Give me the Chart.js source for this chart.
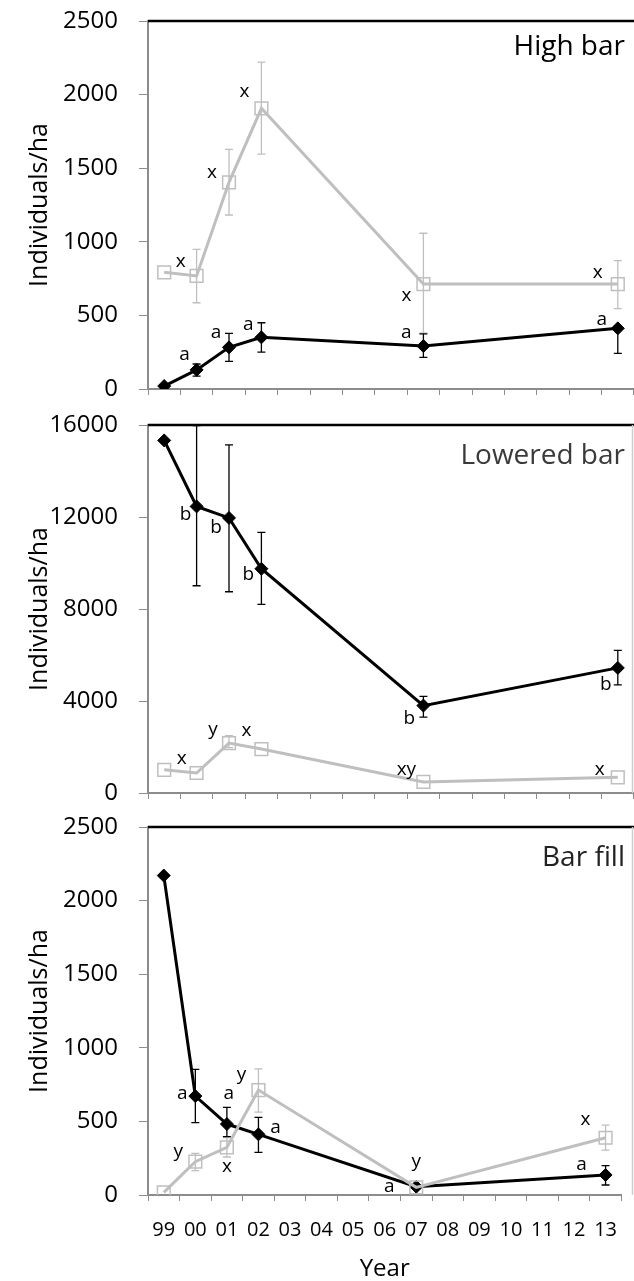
<!DOCTYPE html>
<html>
<head>
<meta charset="utf-8">
<script src="https://cdn.jsdelivr.net/npm/chart.js@4.4.1/dist/chart.umd.min.js"></script>
<style>
  html, body { margin: 0; padding: 0; background: #fff; }
  #wrap { position: relative; width: 634px; height: 1281px; overflow: hidden; }
  canvas { position: absolute; left: 0; }
</style>
</head>
<body>
<div id="wrap">
  <canvas id="c1" width="634" height="410" style="top:0px"></canvas>
  <canvas id="c2" width="634" height="410" style="top:404px"></canvas>
  <canvas id="c3" width="634" height="475" style="top:806px"></canvas>
</div>
<script>
const years = ['99', '00', '01', '02', '03', '04', '05', '06', '07', '08', '09', '10', '11', '12', '13'];

// High bar
const highGray     = [793, 768, 1404, 1907, null, null, null, null, 713, null, null, null, null, null, 713];
const highGrayUp   = [null, 949, 1628, 2221, null, null, null, null, 1058, null, null, null, null, null, 872];
const highGrayDown = [null, 586, 1182, 1596, null, null, null, null, 380, null, null, null, null, null, 546];
const highGrayTags = ['', 'x', 'x', 'x', '', '', '', '', 'x', '', '', '', '', '', 'x'];
const highBlack     = [20, 130, 283, 351, null, null, null, null, 292, null, null, null, null, null, 412];
const highBlackUp   = [null, 170, 378, 450, null, null, null, null, 374, null, null, null, null, null, 425];
const highBlackDown = [null, 88, 188, 251, null, null, null, null, 215, null, null, null, null, null, 242];
const highBlackTags = ['', 'a', 'a', 'a', '', '', '', '', 'a', '', '', '', '', '', 'a'];

// Lowered bar
const lowGray     = [1010, 870, 2170, 1910, null, null, null, null, 480, null, null, null, null, null, 680];
const lowGrayUp   = [null, null, 2490, null, null, null, null, null, null, null, null, null, null, null, null];
const lowGrayDown = [null, null, 1970, null, null, null, null, null, null, null, null, null, null, null, null];
const lowGrayTags = ['', 'x', 'y', 'x', '', '', '', '', 'xy', '', '', '', '', '', 'x'];
const lowBlack     = [15330, 12460, 11960, 9750, null, null, null, null, 3800, null, null, null, null, null, 5440];
const lowBlackUp   = [null, 15970, 15140, 11330, null, null, null, null, 4200, null, null, null, null, null, 6200];
const lowBlackDown = [null, 9010, 8750, 8200, null, null, null, null, 3300, null, null, null, null, null, 4700];
const lowBlackTags = ['', 'b', 'b', 'b', '', '', '', '', 'b', '', '', '', '', '', 'b'];

// Bar fill
const fillGray     = [18, 226, 324, 713, null, null, null, null, 52, null, null, null, null, null, 389];
const fillGrayUp   = [null, 283, 390, 857, null, null, null, null, null, null, null, null, null, null, 475];
const fillGrayDown = [null, 165, 258, 563, null, null, null, null, null, null, null, null, null, null, 305];
const fillGrayTags = ['', 'y', 'x', 'y', '', '', '', '', 'y', '', '', '', '', '', 'x'];
const fillBlack     = [2170, 672, 482, 412, null, null, null, null, 56, null, null, null, null, null, 136];
const fillBlackUp   = [null, 853, 595, 527, null, null, null, null, null, null, null, null, null, null, 199];
const fillBlackDown = [null, 491, 396, 290, null, null, null, null, null, null, null, null, null, null, 68];
const fillBlackTags = ['', 'a', 'a', 'a', '', '', '', '', 'a', '', '', '', '', '', 'a'];

// where each letter sits relative to its point (px), by year index
const highGrayPos  = { 1: [-16, -14], 2: [-17, -10], 3: [-17, -17], 8: [-17, 12], 14: [-20, -11] };
const highBlackPos = { 1: [-12, -15], 2: [-13, -15], 3: [-13, -13], 8: [-17, -13], 14: [-16, -9] };
const lowGrayPos   = { 1: [-15, -14], 2: [-16, -13], 3: [-15, -18], 8: [-17, -12], 14: [-18, -8] };
const lowBlackPos  = { 1: [-11, 8], 2: [-13, 10], 3: [-13, 6], 8: [-14, 13], 14: [-12, 17] };
const fillGrayPos  = { 1: [-17, -10], 2: [0, 19], 3: [-17, -15], 8: [0, -26], 14: [-20, -18] };
const fillBlackPos = { 1: [-13, -2], 2: [2, -30], 3: [17, -7], 8: [-27, 0], 14: [-24, -10] };

const GRAY = '#bfbfbf';
const AXIS = '#8c8c8c';
Chart.defaults.font.family = "'Open Sans', sans-serif";
Chart.defaults.color = '#000';

const extras = {
  id: 'extras',
  beforeDatasetsDraw(chart, args, o) {
    const ctx = chart.ctx, xs = chart.scales.x, ys = chart.scales.y;
    o.bars.forEach(b => {
      ctx.save();
      ctx.strokeStyle = b.color;
      ctx.lineWidth = 1.3;
      b.up.forEach((u, i) => {
        const d = b.down[i];
        if (u == null && d == null) return;
        const px = xs.getPixelForValue(i);
        const y1 = ys.getPixelForValue(u != null ? u : b.mid[i]);
        const y2 = ys.getPixelForValue(d != null ? d : b.mid[i]);
        ctx.beginPath();
        ctx.moveTo(px, y1); ctx.lineTo(px, y2);
        if (u != null) { ctx.moveTo(px - 4, y1); ctx.lineTo(px + 4, y1); }
        if (d != null) { ctx.moveTo(px - 4, y2); ctx.lineTo(px + 4, y2); }
        ctx.stroke();
      });
      ctx.restore();
    });
  },
  afterDatasetsDraw(chart, args, o) {
    const ctx = chart.ctx, xs = chart.scales.x, ys = chart.scales.y;
    ctx.save();
    ctx.font = "19px 'Open Sans', sans-serif";
    ctx.fillStyle = '#000';
    ctx.textAlign = 'center';
    ctx.textBaseline = 'middle';
    o.tags.forEach(t => {
      t.text.forEach((s, i) => {
        if (!s) return;
        const p = t.pos[i] || [0, 0];
        ctx.fillText(s, xs.getPixelForValue(i) + p[0], ys.getPixelForValue(t.vals[i]) + p[1]);
      });
    });
    ctx.font = "28px 'Open Sans', sans-serif";
    ctx.fillStyle = o.titleColor;
    ctx.textAlign = 'right';
    ctx.textBaseline = 'alphabetic';
    ctx.fillText(o.title, 625, chart.chartArea.top + o.titleDrop);
    ctx.restore();
  },
  afterDraw(chart, args, o) {
    const ctx = chart.ctx, a = chart.chartArea;
    ctx.save();
    ctx.strokeStyle = '#000';
    ctx.lineWidth = 2.5;
    ctx.beginPath();
    ctx.moveTo(a.left, a.top);
    ctx.lineTo(chart.width, a.top);
    ctx.stroke();
    if (o.rightEdge) {
      ctx.strokeStyle = '#cfcfcf';
      ctx.lineWidth = 1.5;
      ctx.beginPath();
      ctx.moveTo(632.5, a.top);
      ctx.lineTo(632.5, a.bottom);
      ctx.stroke();
    }
    ctx.restore();
  }
};

function panel(id, p) {
  return new Chart(document.getElementById(id), {
    type: 'line',
    data: {
      labels: years,
      datasets: [
        {
          data: p.gray,
          borderColor: GRAY,
          borderWidth: 3,
          pointStyle: 'rect',
          pointRadius: 9,
          pointBorderColor: GRAY,
          pointBorderWidth: 1.5,
          pointBackgroundColor: 'rgba(255,255,255,0)',
          spanGaps: true,
          tension: 0
        },
        {
          data: p.black,
          borderColor: '#000',
          borderWidth: 3,
          pointStyle: 'rectRot',
          pointRadius: 6.5,
          pointBorderColor: '#000',
          pointBorderWidth: 1,
          pointBackgroundColor: '#000',
          spanGaps: true,
          tension: 0
        }
      ]
    },
    options: {
      responsive: false,
      animation: false,
      events: [],
      layout: { autoPadding: false, padding: { top: 21, left: 0, right: 0, bottom: 0 } },
      plugins: {
        legend: { display: false },
        tooltip: { enabled: false },
        extras: {
          bars: [
            { up: p.grayUp, down: p.grayDown, mid: p.gray, color: GRAY },
            { up: p.blackUp, down: p.blackDown, mid: p.black, color: '#000' }
          ],
          tags: [
            { text: p.grayTags, pos: p.grayPos, vals: p.gray },
            { text: p.blackTags, pos: p.blackPos, vals: p.black }
          ],
          title: p.title,
          titleColor: p.titleColor,
          titleDrop: p.titleDrop,
          rightEdge: p.rightEdge
        }
      },
      scales: {
        x: {
          offset: true,
          grid: { offset: true, drawOnChartArea: false, drawTicks: true, tickLength: 6, tickColor: AXIS, tickWidth: 1 },
          border: { color: AXIS, width: 2 },
          ticks: {
            display: p.showYears,
            autoSkip: false,
            maxRotation: 0,
            padding: 17,
            font: { size: 20 }
          },
          title: {
            display: p.showYears,
            text: 'Year',
            font: { size: 24, lineHeight: 1 },
            padding: { top: 0, bottom: 0 }
          },
          afterFit: s => { s.height = p.xHeight; }
        },
        y: {
          min: 0,
          max: p.max,
          ticks: { stepSize: p.step, padding: 21, font: { size: 24 }, callback: v => String(v) },
          grid: { drawOnChartArea: false, drawTicks: true, tickLength: 9, tickColor: AXIS, tickWidth: 1 },
          border: { color: AXIS, width: 2 },
          title: {
            display: true,
            text: 'Individuals/ha',
            font: { size: 25 },
            padding: { top: 25, bottom: 0 }
          },
          afterFit: s => { s.width = 148; s.paddingTop = 0; s.paddingBottom = 0; }
        }
      }
    },
    plugins: [extras]
  });
}

panel('c1', {
  gray: highGray, grayUp: highGrayUp, grayDown: highGrayDown, grayTags: highGrayTags, grayPos: highGrayPos,
  black: highBlack, blackUp: highBlackUp, blackDown: highBlackDown, blackTags: highBlackTags, blackPos: highBlackPos,
  max: 2500, step: 500, title: 'High bar', titleColor: '#000', titleDrop: 34,
  showYears: false, xHeight: 21, rightEdge: false
});

panel('c2', {
  gray: lowGray, grayUp: lowGrayUp, grayDown: lowGrayDown, grayTags: lowGrayTags, grayPos: lowGrayPos,
  black: lowBlack, blackUp: lowBlackUp, blackDown: lowBlackDown, blackTags: lowBlackTags, blackPos: lowBlackPos,
  max: 16000, step: 4000, title: 'Lowered bar', titleColor: '#3a3a3a', titleDrop: 39,
  showYears: false, xHeight: 21, rightEdge: true
});

panel('c3', {
  gray: fillGray, grayUp: fillGrayUp, grayDown: fillGrayDown, grayTags: fillGrayTags, grayPos: fillGrayPos,
  black: fillBlack, blackUp: fillBlackUp, blackDown: fillBlackDown, blackTags: fillBlackTags, blackPos: fillBlackPos,
  max: 2500, step: 500, title: 'Bar fill', titleColor: '#222', titleDrop: 39,
  showYears: true, xHeight: 86, rightEdge: true
});
</script>
</body>
</html>
